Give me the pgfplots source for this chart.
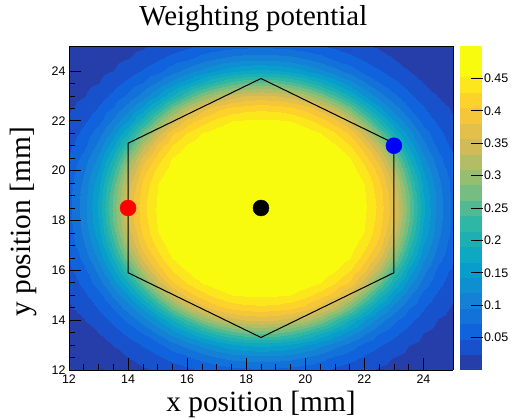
\documentclass[border=0pt]{standalone}
\usepackage{pgfplots}
\pgfplotsset{compat=1.18}
\usepackage{pgfplotstable}
\usepackage{fontspec}
\setmainfont{Liberation Serif}
\setsansfont{Liberation Sans}

\pgfplotsset{
 colormap={birdcont}{rgb=(0.1486,0.2438,0.6649) rgb=(0.0890,0.3212,0.8006) rgb=(0.0630,0.3887,0.8624) rgb=(0.0705,0.4464,0.8505) rgb=(0.0780,0.5041,0.8385) rgb=(0.0561,0.5592,0.8197) rgb=(0.0342,0.6143,0.8008) rgb=(0.0546,0.6571,0.7616) rgb=(0.1174,0.6874,0.7021) rgb=(0.1802,0.7178,0.6425) rgb=(0.3202,0.7304,0.5720) rgb=(0.4601,0.7429,0.5015) rgb=(0.5878,0.7459,0.4429) rgb=(0.7032,0.7394,0.3964) rgb=(0.8186,0.7328,0.3499) rgb=(0.8894,0.7542,0.2887) rgb=(0.9602,0.7755,0.2274) rgb=(0.9918,0.8256,0.1682) rgb=(0.9841,0.9044,0.1111) rgb=(0.9764,0.9832,0.0539) rgb=(0.9764,0.9832,0.0539)}
}

% rows: y = 12 ... 25 (step 0.5); columns: x = 12 ... 25 (step 0.5)
\pgfplotstableread{
x y z
12 12 0.005
12.5 12 0.007
13 12 0.009
13.5 12 0.012
14 12 0.016
14.5 12 0.021
15 12 0.026
15.5 12 0.034
16 12 0.042
16.5 12 0.050
17 12 0.056
17.5 12 0.061
18 12 0.064
18.5 12 0.065
19 12 0.064
19.5 12 0.061
20 12 0.056
20.5 12 0.050
21 12 0.042
21.5 12 0.034
22 12 0.026
22.5 12 0.021
23 12 0.016
23.5 12 0.012
24 12 0.009
24.5 12 0.007
25 12 0.005

12 12.5 0.007
12.5 12.5 0.009
13 12.5 0.013
13.5 12.5 0.017
14 12.5 0.023
14.5 12.5 0.032
15 12.5 0.043
15.5 12.5 0.055
16 12.5 0.065
16.5 12.5 0.080
17 12.5 0.093
17.5 12.5 0.102
18 12.5 0.107
18.5 12.5 0.109
19 12.5 0.107
19.5 12.5 0.102
20 12.5 0.093
20.5 12.5 0.080
21 12.5 0.065
21.5 12.5 0.055
22 12.5 0.043
22.5 12.5 0.032
23 12.5 0.023
23.5 12.5 0.017
24 12.5 0.013
24.5 12.5 0.009
25 12.5 0.007

12 13 0.009
12.5 13 0.013
13 13 0.018
13.5 13 0.024
14 13 0.036
14.5 13 0.050
15 13 0.064
15.5 13 0.085
16 13 0.105
16.5 13 0.126
17 13 0.144
17.5 13 0.160
18 13 0.170
18.5 13 0.174
19 13 0.170
19.5 13 0.160
20 13 0.144
20.5 13 0.126
21 13 0.105
21.5 13 0.085
22 13 0.064
22.5 13 0.050
23 13 0.036
23.5 13 0.024
24 13 0.018
24.5 13 0.013
25 13 0.009

12 13.5 0.012
12.5 13.5 0.017
13 13.5 0.024
13.5 13.5 0.037
14 13.5 0.054
14.5 13.5 0.073
15 13.5 0.100
15.5 13.5 0.129
16 13.5 0.160
16.5 13.5 0.193
17 13.5 0.224
17.5 13.5 0.248
18 13.5 0.264
18.5 13.5 0.269
19 13.5 0.264
19.5 13.5 0.248
20 13.5 0.224
20.5 13.5 0.193
21 13.5 0.160
21.5 13.5 0.129
22 13.5 0.100
22.5 13.5 0.073
23 13.5 0.054
23.5 13.5 0.037
24 13.5 0.024
24.5 13.5 0.017
25 13.5 0.012

12 14 0.016
12.5 14 0.023
13 14 0.036
13.5 14 0.054
14 14 0.077
14.5 14 0.107
15 14 0.144
15.5 14 0.189
16 14 0.239
16.5 14 0.286
17 14 0.322
17.5 14 0.344
18 14 0.359
18.5 14 0.363
19 14 0.359
19.5 14 0.344
20 14 0.322
20.5 14 0.286
21 14 0.239
21.5 14 0.189
22 14 0.144
22.5 14 0.107
23 14 0.077
23.5 14 0.054
24 14 0.036
24.5 14 0.023
25 14 0.016

12 14.5 0.021
12.5 14.5 0.032
13 14.5 0.050
13.5 14.5 0.073
14 14.5 0.107
14.5 14.5 0.149
15 14.5 0.206
15.5 14.5 0.269
16 14.5 0.326
16.5 14.5 0.367
17 14.5 0.395
17.5 14.5 0.410
18 14.5 0.418
18.5 14.5 0.421
19 14.5 0.418
19.5 14.5 0.410
20 14.5 0.395
20.5 14.5 0.367
21 14.5 0.326
21.5 14.5 0.269
22 14.5 0.206
22.5 14.5 0.149
23 14.5 0.107
23.5 14.5 0.073
24 14.5 0.050
24.5 14.5 0.032
25 14.5 0.021

12 15 0.026
12.5 15 0.043
13 15 0.064
13.5 15 0.100
14 15 0.144
14.5 15 0.206
15 15 0.280
15.5 15 0.344
16 15 0.391
16.5 15 0.418
17 15 0.438
17.5 15 0.452
18 15 0.456
18.5 15 0.458
19 15 0.456
19.5 15 0.452
20 15 0.438
20.5 15 0.418
21 15 0.391
21.5 15 0.344
22 15 0.280
22.5 15 0.206
23 15 0.144
23.5 15 0.100
24 15 0.064
24.5 15 0.043
25 15 0.026

12 15.5 0.034
12.5 15.5 0.055
13 15.5 0.085
13.5 15.5 0.129
14 15.5 0.189
14.5 15.5 0.269
15 15.5 0.344
15.5 15.5 0.400
16 15.5 0.430
16.5 15.5 0.453
17 15.5 0.466
17.5 15.5 0.475
18 15.5 0.479
18.5 15.5 0.480
19 15.5 0.479
19.5 15.5 0.475
20 15.5 0.466
20.5 15.5 0.453
21 15.5 0.430
21.5 15.5 0.400
22 15.5 0.344
22.5 15.5 0.269
23 15.5 0.189
23.5 15.5 0.129
24 15.5 0.085
24.5 15.5 0.055
25 15.5 0.034

12 16 0.042
12.5 16 0.065
13 16 0.105
13.5 16 0.160
14 16 0.239
14.5 16 0.326
15 16 0.391
15.5 16 0.430
16 16 0.456
16.5 16 0.473
17 16 0.483
17.5 16 0.488
18 16 0.490
18.5 16 0.491
19 16 0.490
19.5 16 0.488
20 16 0.483
20.5 16 0.473
21 16 0.456
21.5 16 0.430
22 16 0.391
22.5 16 0.326
23 16 0.239
23.5 16 0.160
24 16 0.105
24.5 16 0.065
25 16 0.042

12 16.5 0.050
12.5 16.5 0.080
13 16.5 0.126
13.5 16.5 0.193
14 16.5 0.286
14.5 16.5 0.367
15 16.5 0.418
15.5 16.5 0.453
16 16.5 0.473
16.5 16.5 0.485
17 16.5 0.491
17.5 16.5 0.493
18 16.5 0.494
18.5 16.5 0.495
19 16.5 0.494
19.5 16.5 0.493
20 16.5 0.491
20.5 16.5 0.485
21 16.5 0.473
21.5 16.5 0.453
22 16.5 0.418
22.5 16.5 0.367
23 16.5 0.286
23.5 16.5 0.193
24 16.5 0.126
24.5 16.5 0.080
25 16.5 0.050

12 17 0.056
12.5 17 0.093
13 17 0.144
13.5 17 0.224
14 17 0.322
14.5 17 0.395
15 17 0.438
15.5 17 0.466
16 17 0.483
16.5 17 0.491
17 17 0.494
17.5 17 0.495
18 17 0.496
18.5 17 0.496
19 17 0.496
19.5 17 0.495
20 17 0.494
20.5 17 0.491
21 17 0.483
21.5 17 0.466
22 17 0.438
22.5 17 0.395
23 17 0.322
23.5 17 0.224
24 17 0.144
24.5 17 0.093
25 17 0.056

12 17.5 0.061
12.5 17.5 0.102
13 17.5 0.160
13.5 17.5 0.248
14 17.5 0.344
14.5 17.5 0.410
15 17.5 0.452
15.5 17.5 0.475
16 17.5 0.488
16.5 17.5 0.493
17 17.5 0.495
17.5 17.5 0.496
18 17.5 0.497
18.5 17.5 0.497
19 17.5 0.497
19.5 17.5 0.496
20 17.5 0.495
20.5 17.5 0.493
21 17.5 0.488
21.5 17.5 0.475
22 17.5 0.452
22.5 17.5 0.410
23 17.5 0.344
23.5 17.5 0.248
24 17.5 0.160
24.5 17.5 0.102
25 17.5 0.061

12 18 0.064
12.5 18 0.107
13 18 0.170
13.5 18 0.264
14 18 0.359
14.5 18 0.418
15 18 0.456
15.5 18 0.479
16 18 0.490
16.5 18 0.494
17 18 0.496
17.5 18 0.497
18 18 0.497
18.5 18 0.497
19 18 0.497
19.5 18 0.497
20 18 0.496
20.5 18 0.494
21 18 0.490
21.5 18 0.479
22 18 0.456
22.5 18 0.418
23 18 0.359
23.5 18 0.264
24 18 0.170
24.5 18 0.107
25 18 0.064

12 18.5 0.065
12.5 18.5 0.109
13 18.5 0.174
13.5 18.5 0.269
14 18.5 0.363
14.5 18.5 0.421
15 18.5 0.458
15.5 18.5 0.480
16 18.5 0.491
16.5 18.5 0.495
17 18.5 0.496
17.5 18.5 0.497
18 18.5 0.497
18.5 18.5 0.497
19 18.5 0.497
19.5 18.5 0.497
20 18.5 0.496
20.5 18.5 0.495
21 18.5 0.491
21.5 18.5 0.480
22 18.5 0.458
22.5 18.5 0.421
23 18.5 0.363
23.5 18.5 0.269
24 18.5 0.174
24.5 18.5 0.109
25 18.5 0.065

12 19 0.064
12.5 19 0.107
13 19 0.170
13.5 19 0.264
14 19 0.359
14.5 19 0.418
15 19 0.456
15.5 19 0.479
16 19 0.490
16.5 19 0.494
17 19 0.496
17.5 19 0.497
18 19 0.497
18.5 19 0.497
19 19 0.497
19.5 19 0.497
20 19 0.496
20.5 19 0.494
21 19 0.490
21.5 19 0.479
22 19 0.456
22.5 19 0.418
23 19 0.359
23.5 19 0.264
24 19 0.170
24.5 19 0.107
25 19 0.064

12 19.5 0.061
12.5 19.5 0.102
13 19.5 0.160
13.5 19.5 0.248
14 19.5 0.344
14.5 19.5 0.410
15 19.5 0.452
15.5 19.5 0.475
16 19.5 0.488
16.5 19.5 0.493
17 19.5 0.495
17.5 19.5 0.496
18 19.5 0.497
18.5 19.5 0.497
19 19.5 0.497
19.5 19.5 0.496
20 19.5 0.495
20.5 19.5 0.493
21 19.5 0.488
21.5 19.5 0.475
22 19.5 0.452
22.5 19.5 0.410
23 19.5 0.344
23.5 19.5 0.248
24 19.5 0.160
24.5 19.5 0.102
25 19.5 0.061

12 20 0.056
12.5 20 0.093
13 20 0.144
13.5 20 0.224
14 20 0.322
14.5 20 0.395
15 20 0.438
15.5 20 0.466
16 20 0.483
16.5 20 0.491
17 20 0.494
17.5 20 0.495
18 20 0.496
18.5 20 0.496
19 20 0.496
19.5 20 0.495
20 20 0.494
20.5 20 0.491
21 20 0.483
21.5 20 0.466
22 20 0.438
22.5 20 0.395
23 20 0.322
23.5 20 0.224
24 20 0.144
24.5 20 0.093
25 20 0.056

12 20.5 0.050
12.5 20.5 0.080
13 20.5 0.126
13.5 20.5 0.193
14 20.5 0.286
14.5 20.5 0.367
15 20.5 0.418
15.5 20.5 0.453
16 20.5 0.473
16.5 20.5 0.485
17 20.5 0.491
17.5 20.5 0.493
18 20.5 0.494
18.5 20.5 0.495
19 20.5 0.494
19.5 20.5 0.493
20 20.5 0.491
20.5 20.5 0.485
21 20.5 0.473
21.5 20.5 0.453
22 20.5 0.418
22.5 20.5 0.367
23 20.5 0.286
23.5 20.5 0.193
24 20.5 0.126
24.5 20.5 0.080
25 20.5 0.050

12 21 0.042
12.5 21 0.065
13 21 0.105
13.5 21 0.160
14 21 0.239
14.5 21 0.326
15 21 0.391
15.5 21 0.430
16 21 0.456
16.5 21 0.473
17 21 0.483
17.5 21 0.488
18 21 0.490
18.5 21 0.491
19 21 0.490
19.5 21 0.488
20 21 0.483
20.5 21 0.473
21 21 0.456
21.5 21 0.430
22 21 0.391
22.5 21 0.326
23 21 0.239
23.5 21 0.160
24 21 0.105
24.5 21 0.065
25 21 0.042

12 21.5 0.034
12.5 21.5 0.055
13 21.5 0.085
13.5 21.5 0.129
14 21.5 0.189
14.5 21.5 0.269
15 21.5 0.344
15.5 21.5 0.400
16 21.5 0.430
16.5 21.5 0.453
17 21.5 0.466
17.5 21.5 0.475
18 21.5 0.479
18.5 21.5 0.480
19 21.5 0.479
19.5 21.5 0.475
20 21.5 0.466
20.5 21.5 0.453
21 21.5 0.430
21.5 21.5 0.400
22 21.5 0.344
22.5 21.5 0.269
23 21.5 0.189
23.5 21.5 0.129
24 21.5 0.085
24.5 21.5 0.055
25 21.5 0.034

12 22 0.026
12.5 22 0.043
13 22 0.064
13.5 22 0.100
14 22 0.144
14.5 22 0.206
15 22 0.280
15.5 22 0.344
16 22 0.391
16.5 22 0.418
17 22 0.438
17.5 22 0.452
18 22 0.456
18.5 22 0.458
19 22 0.456
19.5 22 0.452
20 22 0.438
20.5 22 0.418
21 22 0.391
21.5 22 0.344
22 22 0.280
22.5 22 0.206
23 22 0.144
23.5 22 0.100
24 22 0.064
24.5 22 0.043
25 22 0.026

12 22.5 0.021
12.5 22.5 0.032
13 22.5 0.050
13.5 22.5 0.073
14 22.5 0.107
14.5 22.5 0.149
15 22.5 0.206
15.5 22.5 0.269
16 22.5 0.326
16.5 22.5 0.367
17 22.5 0.395
17.5 22.5 0.410
18 22.5 0.418
18.5 22.5 0.421
19 22.5 0.418
19.5 22.5 0.410
20 22.5 0.395
20.5 22.5 0.367
21 22.5 0.326
21.5 22.5 0.269
22 22.5 0.206
22.5 22.5 0.149
23 22.5 0.107
23.5 22.5 0.073
24 22.5 0.050
24.5 22.5 0.032
25 22.5 0.021

12 23 0.016
12.5 23 0.023
13 23 0.036
13.5 23 0.054
14 23 0.077
14.5 23 0.107
15 23 0.144
15.5 23 0.189
16 23 0.239
16.5 23 0.286
17 23 0.322
17.5 23 0.344
18 23 0.359
18.5 23 0.363
19 23 0.359
19.5 23 0.344
20 23 0.322
20.5 23 0.286
21 23 0.239
21.5 23 0.189
22 23 0.144
22.5 23 0.107
23 23 0.077
23.5 23 0.054
24 23 0.036
24.5 23 0.023
25 23 0.016

12 23.5 0.012
12.5 23.5 0.017
13 23.5 0.024
13.5 23.5 0.037
14 23.5 0.054
14.5 23.5 0.073
15 23.5 0.100
15.5 23.5 0.129
16 23.5 0.160
16.5 23.5 0.193
17 23.5 0.224
17.5 23.5 0.248
18 23.5 0.264
18.5 23.5 0.269
19 23.5 0.264
19.5 23.5 0.248
20 23.5 0.224
20.5 23.5 0.193
21 23.5 0.160
21.5 23.5 0.129
22 23.5 0.100
22.5 23.5 0.073
23 23.5 0.054
23.5 23.5 0.037
24 23.5 0.024
24.5 23.5 0.017
25 23.5 0.012

12 24 0.009
12.5 24 0.013
13 24 0.018
13.5 24 0.024
14 24 0.036
14.5 24 0.050
15 24 0.064
15.5 24 0.085
16 24 0.105
16.5 24 0.126
17 24 0.144
17.5 24 0.160
18 24 0.170
18.5 24 0.174
19 24 0.170
19.5 24 0.160
20 24 0.144
20.5 24 0.126
21 24 0.105
21.5 24 0.085
22 24 0.064
22.5 24 0.050
23 24 0.036
23.5 24 0.024
24 24 0.018
24.5 24 0.013
25 24 0.009

12 24.5 0.007
12.5 24.5 0.009
13 24.5 0.013
13.5 24.5 0.017
14 24.5 0.023
14.5 24.5 0.032
15 24.5 0.043
15.5 24.5 0.055
16 24.5 0.065
16.5 24.5 0.080
17 24.5 0.093
17.5 24.5 0.102
18 24.5 0.107
18.5 24.5 0.109
19 24.5 0.107
19.5 24.5 0.102
20 24.5 0.093
20.5 24.5 0.080
21 24.5 0.065
21.5 24.5 0.055
22 24.5 0.043
22.5 24.5 0.032
23 24.5 0.023
23.5 24.5 0.017
24 24.5 0.013
24.5 24.5 0.009
25 24.5 0.007

12 25 0.005
12.5 25 0.007
13 25 0.009
13.5 25 0.012
14 25 0.016
14.5 25 0.021
15 25 0.026
15.5 25 0.034
16 25 0.042
16.5 25 0.050
17 25 0.056
17.5 25 0.061
18 25 0.064
18.5 25 0.065
19 25 0.064
19.5 25 0.061
20 25 0.056
20.5 25 0.050
21 25 0.042
21.5 25 0.034
22 25 0.026
22.5 25 0.021
23 25 0.016
23.5 25 0.012
24 25 0.009
24.5 25 0.007
25 25 0.005
}\wpot

\begin{document}
\begin{tikzpicture}
\useasboundingbox (0,0) rectangle (512bp,419bp);
\begin{axis}[
  at={(69bp,49bp)}, anchor=south west,
  scale only axis, width=384bp, height=324bp,
  view={0}{90},
  xmin=12, xmax=25, ymin=12, ymax=25,
  xtick={12,14,...,24}, ytick={12,14,...,24},
  minor tick num=3,
  tick align=inside,
  xtick pos=left, ytick pos=left,
  major tick length=12bp, minor tick length=6bp,
  tick style={black, line width=0.6bp},
  axis line style={line width=0.8bp},
  colormap name=birdcont,
  colormap access=piecewise constant,
  point meta min=0, point meta max=0.5,
  /pgf/number format/assume math mode=true,
  ticklabel style={font=\sffamily\fontsize{12.5}{14}\selectfont},
  xticklabel style={yshift=-1bp},
  title={Weighting potential},
  title style={at={(axis description cs:0.48,1.046)}, anchor=base, font=\fontsize{29}{32}\selectfont},
  xlabel={x position [mm]},
  xlabel style={at={(axis description cs:0.5,-0.128)}, anchor=base, font=\fontsize{29.5}{32}\selectfont},
  ylabel={y position [mm]},
  ylabel style={at={(axis description cs:-0.099,0.457)}, anchor=base, font=\fontsize{29.5}{32}\selectfont},
  colorbar,
  colorbar style={
    at={(parent axis.south east)}, anchor=south west, xshift=-2bp,
    scale only axis, width=23bp, height=324bp,
    ytick={0.05,0.1,0.15,0.2,0.25,0.3,0.35,0.4,0.45},
    ytick pos=right, yticklabel pos=right,
    tick align=inside, major tick length=12bp,
    tick style={black, line width=0.6bp},
    axis line style={draw=none},
    yticklabel style={font=\sffamily\fontsize{12.5}{14}\selectfont,
      /pgf/number format/fixed, /pgf/number format/precision=2,
      /pgf/number format/assume math mode=true, xshift=-2bp},
  },
]
\addplot3[surf, shader=interp, mesh/cols=27] table[x=x, y=y, z=z] {\wpot};
\addplot3[black, line width=1bp, mark=none] coordinates {(18.5,23.696,0.5) (23,21.098,0.5) (23,15.902,0.5) (18.5,13.304,0.5) (14,15.902,0.5) (14,21.098,0.5) (18.5,23.696,0.5)};
\addplot3[only marks, mark=*, mark size=8bp, red] coordinates {(14,18.5,0.5)};
\addplot3[only marks, mark=*, mark size=8bp, black] coordinates {(18.5,18.5,0.5)};
\addplot3[only marks, mark=*, mark size=8bp, blue] coordinates {(23,21,0.5)};
\end{axis}
\end{tikzpicture}
\end{document}
